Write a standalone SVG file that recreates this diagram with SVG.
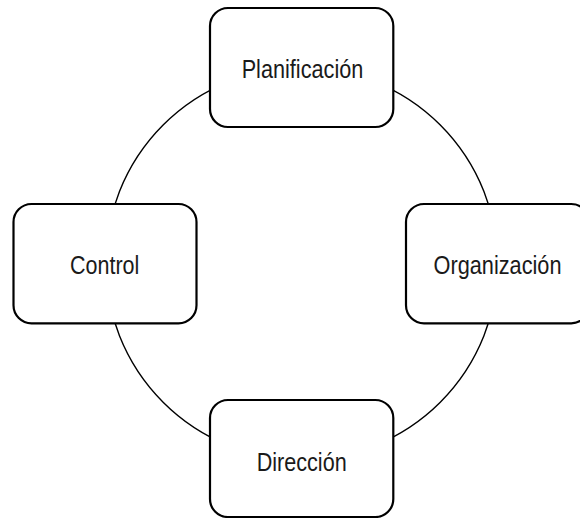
<svg xmlns="http://www.w3.org/2000/svg" width="580" height="518" viewBox="0 0 580 518">
<style>
.box{fill:#fff;stroke:#000;stroke-width:2.2}
.lbl{font-family:"Liberation Sans",Arial,sans-serif;font-size:25.5px;fill:#1a1a1a;text-anchor:middle}
</style>
<rect width="580" height="518" fill="#fff"/>
<g id="connectors">
<circle cx="301.7" cy="263.7" r="196" fill="none" stroke="#000" stroke-width="1.4"/>
</g>
<g id="planificacion">
<rect class="box" x="210" y="8" width="183.3" height="119" rx="18"/>
<text class="lbl" x="302.5" y="78.3" textLength="121.7" lengthAdjust="spacingAndGlyphs">Planificación</text>
</g>
<g id="organizacion">
<rect class="box" x="406" y="204" width="183.3" height="119.3" rx="18"/>
<text class="lbl" x="497.5" y="274.3" textLength="128" lengthAdjust="spacingAndGlyphs">Organización</text>
</g>
<g id="direccion">
<rect class="box" x="210" y="400" width="183.3" height="117" rx="18"/>
<text class="lbl" x="301.7" y="470.7" textLength="90" lengthAdjust="spacingAndGlyphs">Dirección</text>
</g>
<g id="control">
<rect class="box" x="13.5" y="204" width="183" height="119.3" rx="18"/>
<text class="lbl" x="104.7" y="274" textLength="69.3" lengthAdjust="spacingAndGlyphs">Control</text>
</g>
</svg>
